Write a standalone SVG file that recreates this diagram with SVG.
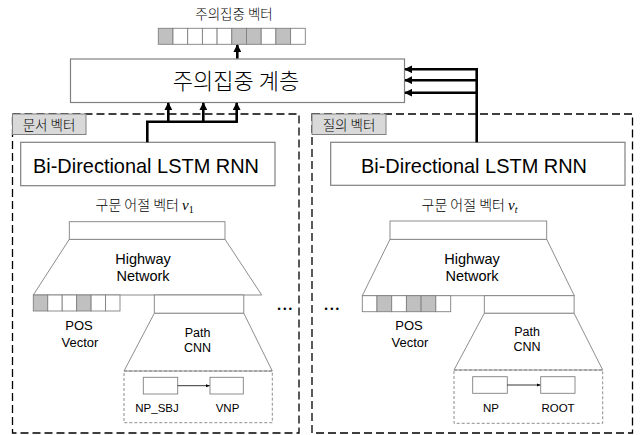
<svg xmlns="http://www.w3.org/2000/svg" width="642" height="435" viewBox="0 0 642 435">
<defs>
<marker id="ah" viewBox="0 0 10 10" refX="9" refY="5" markerWidth="3" markerHeight="3" orient="auto" markerUnits="strokeWidth"><path d="M0,0 L10,5 L0,10 z" fill="#000"/></marker>
<marker id="ahs" viewBox="0 0 10 10" refX="9" refY="5" markerWidth="5" markerHeight="5" orient="auto" markerUnits="strokeWidth"><path d="M0,1 L10,5 L0,9 z" fill="#000"/></marker>
<style>
.box{fill:#fff;stroke:#808080;stroke-width:1.2}
.thin{fill:#fff;stroke:#808080;stroke-width:0.9}
.cell{fill:#fff;stroke:#808080;stroke-width:0.9}
.sh{fill:#c0c0c0;stroke:#808080;stroke-width:0.9}
.outer{fill:none;stroke:#000;stroke-width:1.3;stroke-dasharray:8 4}
.inner{fill:none;stroke:#808080;stroke-width:0.9;stroke-dasharray:3 2}
.tab{fill:#d9d9d9;stroke:#808080;stroke-width:1}
.kr{font-family:"Noto Sans CJK KR","Noto Sans",sans-serif;font-weight:300;fill:#000}
.en{font-family:"Liberation Sans",Arial,sans-serif;fill:#000}
.con{fill:none;stroke:#000;stroke-width:2.6}
.trap{fill:#fff;stroke:#808080;stroke-width:0.9}
</style>
</defs>

<g id="outer-left"><rect class="outer" x="12.5" y="114" width="286.5" height="319"/></g>
<g id="outer-right"><rect class="outer" x="312" y="114" width="320.5" height="319"/></g>

<g id="tab-left"><rect class="tab" x="12.5" y="114" width="73.5" height="20.5"/><text class="kr" x="49" y="130" font-size="13.5" text-anchor="middle">문서 벡터</text></g>
<g id="tab-right"><rect class="tab" x="312" y="114" width="74" height="20.5"/><text class="kr" x="349" y="130" font-size="13.5" text-anchor="middle">질의 벡터</text></g>

<g id="attn-vector">
<text class="kr" x="234" y="19" font-size="13.5" text-anchor="middle">주의집중 벡터</text>
<rect class="sh" x="158.3" y="28.3" width="14.7" height="16"/>
<rect class="cell" x="173" y="28.3" width="14.7" height="16"/>
<rect class="cell" x="187.7" y="28.3" width="14.7" height="16"/>
<rect class="cell" x="202.4" y="28.3" width="14.7" height="16"/>
<rect class="cell" x="217.1" y="28.3" width="14.7" height="16"/>
<rect class="sh" x="231.8" y="28.3" width="14.7" height="16"/>
<rect class="sh" x="246.5" y="28.3" width="14.7" height="16"/>
<rect class="cell" x="261.2" y="28.3" width="14.7" height="16"/>
<rect class="sh" x="275.9" y="28.3" width="14.7" height="16"/>
<rect class="cell" x="290.6" y="28.3" width="14.7" height="16"/>
</g>

<g id="attn-layer"><rect class="box" x="70.5" y="59" width="334" height="43.5"/><text class="kr" x="236" y="89" font-size="22" text-anchor="middle">주의집중 계층</text></g>

<g id="bilstm-left"><rect class="box" x="20.7" y="142.3" width="254.3" height="43.4"/><text class="en" x="146" y="173" font-size="21" text-anchor="middle" textLength="226" lengthAdjust="spacingAndGlyphs">Bi-Directional LSTM RNN</text></g>
<g id="bilstm-right"><rect class="box" x="330.7" y="142.3" width="294.3" height="43"/><text class="en" x="474" y="173" font-size="21" text-anchor="middle" textLength="226" lengthAdjust="spacingAndGlyphs">Bi-Directional LSTM RNN</text></g>

<g id="label-v1"><text class="kr" x="95.5" y="210" font-size="14">구문 어절 벡터 <tspan font-family="'Liberation Serif',serif" font-style="italic" font-size="15">v</tspan><tspan font-family="'Liberation Serif',serif" font-size="10" dy="3">1</tspan></text></g>
<g id="label-vt"><text class="kr" x="421.5" y="210" font-size="14">구문 어절 벡터 <tspan font-family="'Liberation Serif',serif" font-style="italic" font-size="15">v</tspan><tspan font-family="'Liberation Serif',serif" font-style="italic" font-size="10" dy="3">t</tspan></text></g>

<g id="highway-left">
<polygon class="trap" points="69.3,239.3 225,239.3 261.7,295 33.3,295"/>
<rect class="thin" x="69.3" y="221.7" width="155.7" height="17.6"/>
<text class="en" x="143" y="264" font-size="14.5" text-anchor="middle">Highway</text>
<text class="en" x="143" y="280.7" font-size="14.5" text-anchor="middle">Network</text>
</g>
<g id="pos-left">
<rect class="sh" x="33.3" y="295" width="14.45" height="16"/>
<rect class="cell" x="47.75" y="295" width="14.45" height="16"/>
<rect class="cell" x="62.2" y="295" width="14.45" height="16"/>
<rect class="sh" x="76.65" y="295" width="14.45" height="16"/>
<rect class="cell" x="91.1" y="295" width="14.45" height="16"/>
<rect class="cell" x="105.55" y="295" width="14.45" height="16"/>
<text class="en" x="79" y="330" font-size="13" text-anchor="middle">POS</text>
<text class="en" x="80" y="346.5" font-size="13" text-anchor="middle">Vector</text>
</g>
<g id="pathcnn-left">
<rect class="thin" x="154.3" y="295" width="89.5" height="18.3"/>
<polygon class="trap" points="154.3,313.3 243.8,313.3 272.3,371 124,371"/>
<text class="en" x="197.5" y="336.7" font-size="12.5" text-anchor="middle">Path</text>
<text class="en" x="197.5" y="351.7" font-size="12.5" text-anchor="middle">CNN</text>
<rect class="inner" x="124" y="371" width="148.3" height="51.7"/>
</g>
<g id="np-sbj"><rect class="thin" x="143.3" y="377.3" width="34.4" height="16.7"/><text class="en" x="157" y="412" font-size="11.5" text-anchor="middle">NP_SBJ</text></g>
<g id="vnp"><rect class="thin" x="210" y="377.3" width="33.3" height="16.7"/><text class="en" x="227.5" y="412" font-size="11.5" text-anchor="middle">VNP</text></g>

<g id="highway-right">
<polygon class="trap" points="390,239.3 546.7,239.3 574.3,295.7 362.3,295.7"/>
<rect class="thin" x="390" y="221" width="156.7" height="18.3"/>
<text class="en" x="472" y="264" font-size="14.5" text-anchor="middle">Highway</text>
<text class="en" x="472" y="280.7" font-size="14.5" text-anchor="middle">Network</text>
</g>
<g id="pos-right">
<rect class="cell" x="362.3" y="295.7" width="14.7" height="16"/>
<rect class="sh" x="377" y="295.7" width="14.7" height="16"/>
<rect class="cell" x="391.7" y="295.7" width="14.7" height="16"/>
<rect class="sh" x="406.4" y="295.7" width="14.7" height="16"/>
<rect class="sh" x="421.1" y="295.7" width="14.7" height="16"/>
<rect class="cell" x="435.8" y="295.7" width="14.9" height="16"/>
<text class="en" x="409" y="330" font-size="13" text-anchor="middle">POS</text>
<text class="en" x="410" y="346.5" font-size="13" text-anchor="middle">Vector</text>
</g>
<g id="pathcnn-right">
<rect class="thin" x="484.3" y="295.7" width="89.8" height="17.6"/>
<polygon class="trap" points="484.3,313.3 574.1,313.3 602.7,370 454,370"/>
<text class="en" x="527" y="335.5" font-size="12.5" text-anchor="middle">Path</text>
<text class="en" x="527" y="350.7" font-size="12.5" text-anchor="middle">CNN</text>
<rect class="inner" x="454" y="370" width="148.7" height="53.3"/>
</g>
<g id="np"><rect class="thin" x="472.7" y="376.7" width="34.6" height="16.6"/><text class="en" x="491" y="412" font-size="11.5" text-anchor="middle">NP</text></g>
<g id="root"><rect class="thin" x="540.7" y="376.7" width="34.3" height="16.6"/><text class="en" x="558" y="412" font-size="11.5" text-anchor="middle">ROOT</text></g>

<g id="ellipsis">
<text class="en" x="286" y="312" font-size="9" letter-spacing="2.5" text-anchor="middle">•••</text>
<text class="en" x="333" y="312" font-size="9" letter-spacing="2.5" text-anchor="middle">•••</text>
</g>

<g id="connectors">
<line class="con" x1="237.3" y1="58.5" x2="237.3" y2="45" marker-end="url(#ah)"/>
<polyline class="con" points="147.3,142.3 147.3,121.7 237,121.7"/>
<line class="con" x1="168.3" y1="122.9" x2="168.3" y2="103" marker-end="url(#ah)"/>
<line class="con" x1="203.3" y1="122.9" x2="203.3" y2="103" marker-end="url(#ah)"/>
<line class="con" x1="236.7" y1="122.9" x2="236.7" y2="103" marker-end="url(#ah)"/>
<line class="con" x1="476.7" y1="142.3" x2="476.7" y2="68"/>
<line class="con" x1="477.9" y1="69.3" x2="405" y2="69.3" marker-end="url(#ah)"/>
<line class="con" x1="477.9" y1="80.2" x2="405" y2="80.2" marker-end="url(#ah)"/>
<line class="con" x1="477.9" y1="92.7" x2="405" y2="92.7" marker-end="url(#ah)"/>
<line x1="177.7" y1="385.7" x2="209.5" y2="385.7" stroke="#000" stroke-width="0.8" marker-end="url(#ahs)"/>
<line x1="507.3" y1="385" x2="540.2" y2="385" stroke="#000" stroke-width="0.8" marker-end="url(#ahs)"/>
</g>
</svg>
